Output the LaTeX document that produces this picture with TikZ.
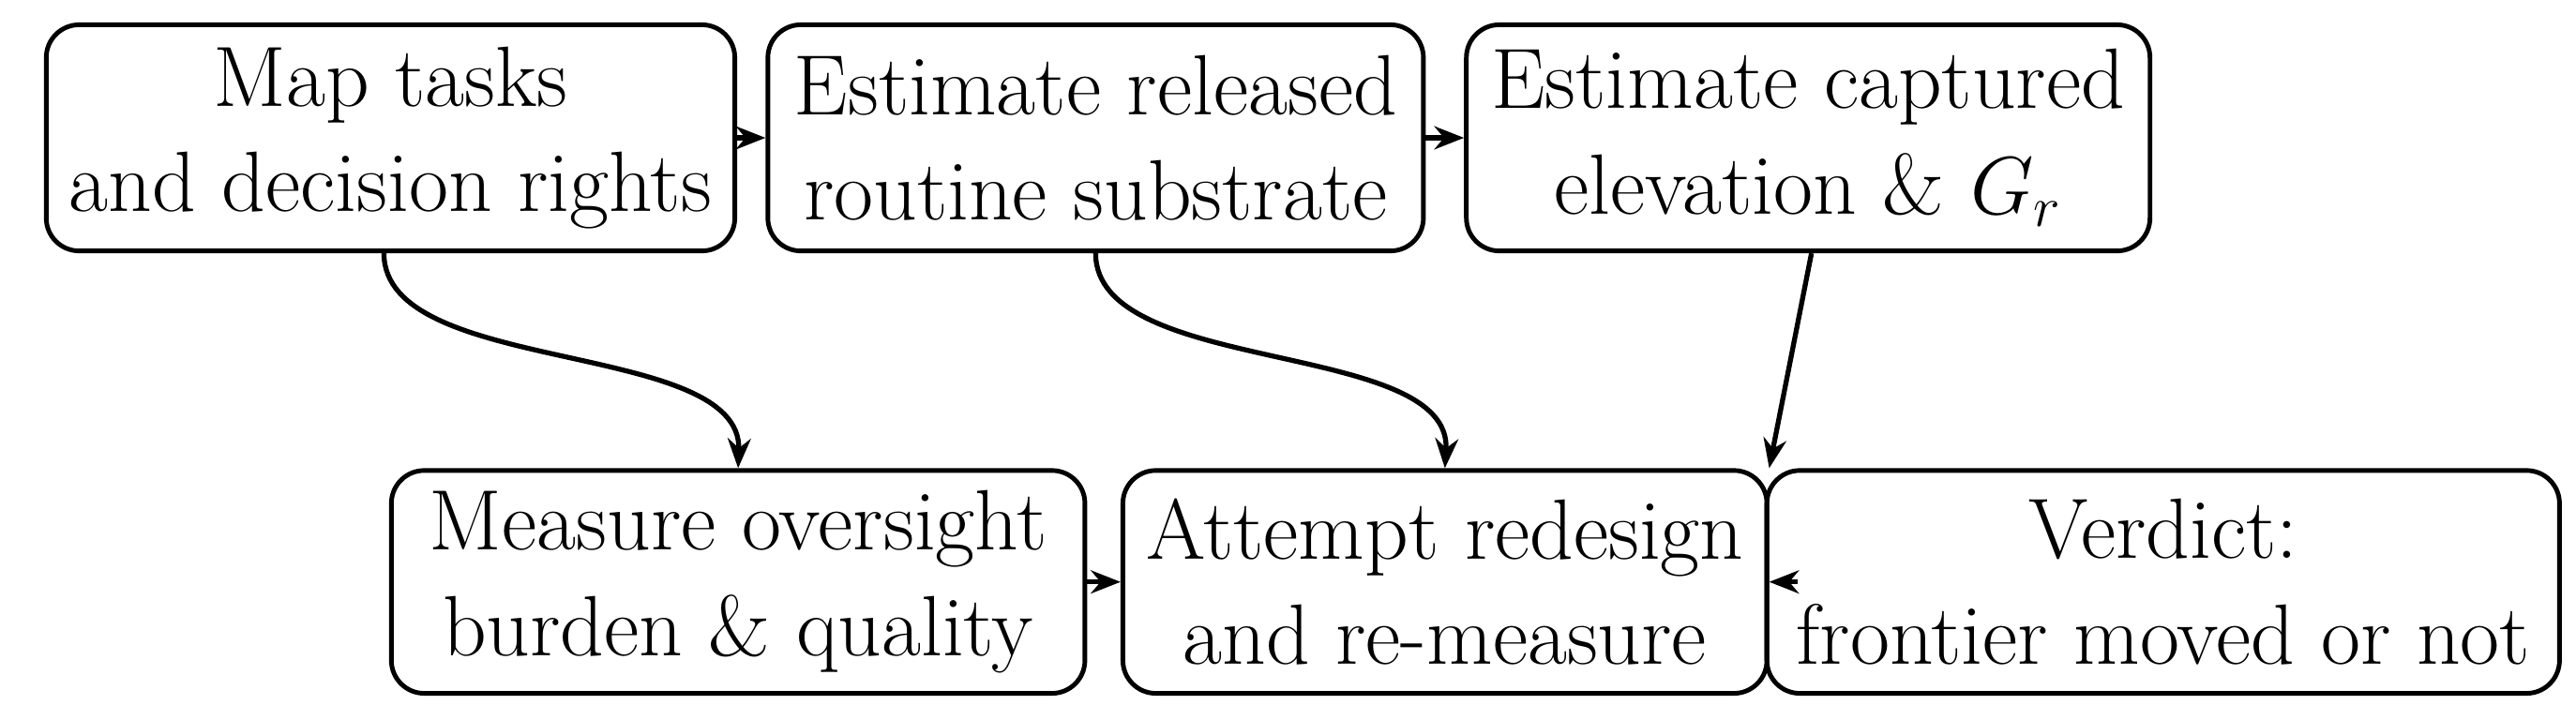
\documentclass[tikz,border=0pt]{standalone}
\usetikzlibrary{arrows.meta}
\begin{document}
\begin{tikzpicture}[x=0.01761cm,y=-0.01761cm,
  box/.style={draw,line width=1.4pt,rounded corners=10pt,align=center,inner sep=0pt,
    font=\fontsize{26}{32}\selectfont},
  arr/.style={line width=1.5pt,-{Stealth[length=9pt,width=7pt]}}]
\useasboundingbox (0,0) rectangle (1560,436);
\node[box,minimum width=417*0.01761cm,minimum height=137*0.01761cm] (b1) at (236.5,83.5) {Map tasks\\and decision rights};
\node[box,minimum width=397*0.01761cm,minimum height=137*0.01761cm] (b2) at (663.5,83.5) {Estimate released\\routine substrate};
\node[box,minimum width=414*0.01761cm,minimum height=137*0.01761cm] (b3) at (1095,83.5) {Estimate captured\\elevation \& $G_r$};
\node[box,minimum width=420*0.01761cm,minimum height=135*0.01761cm] (b4) at (447,352.5) {Measure oversight\\burden \& quality};
\node[box,minimum width=390*0.01761cm,minimum height=135*0.01761cm] (b5) at (875,352.5) {Attempt redesign\\and re-measure};
\node[box,minimum width=480*0.01761cm,minimum height=135*0.01761cm] (b6) at (1310,352.5) {Verdict:\\frontier moved or not};
\draw[arr] (b1.east) -- (b2.west);
\draw[arr] (b2.east) -- (b3.west);
\draw[arr] ([xshift=-4*0.01761cm]b1.south) .. controls ++(0,75) and (450,205) .. (b4.north);
\draw[arr] (b2.south) .. controls ++(0,75) and (880,205) .. (b5.north);
\draw[arr] ([xshift=2*0.01761cm]b3.south) -- (b5.north east);
\draw[arr] (b4.east) -- (b5.west);
\draw[arr] ([xshift=20*0.01761cm]b6.west) -- (b5.east);
\end{tikzpicture}
\end{document}
